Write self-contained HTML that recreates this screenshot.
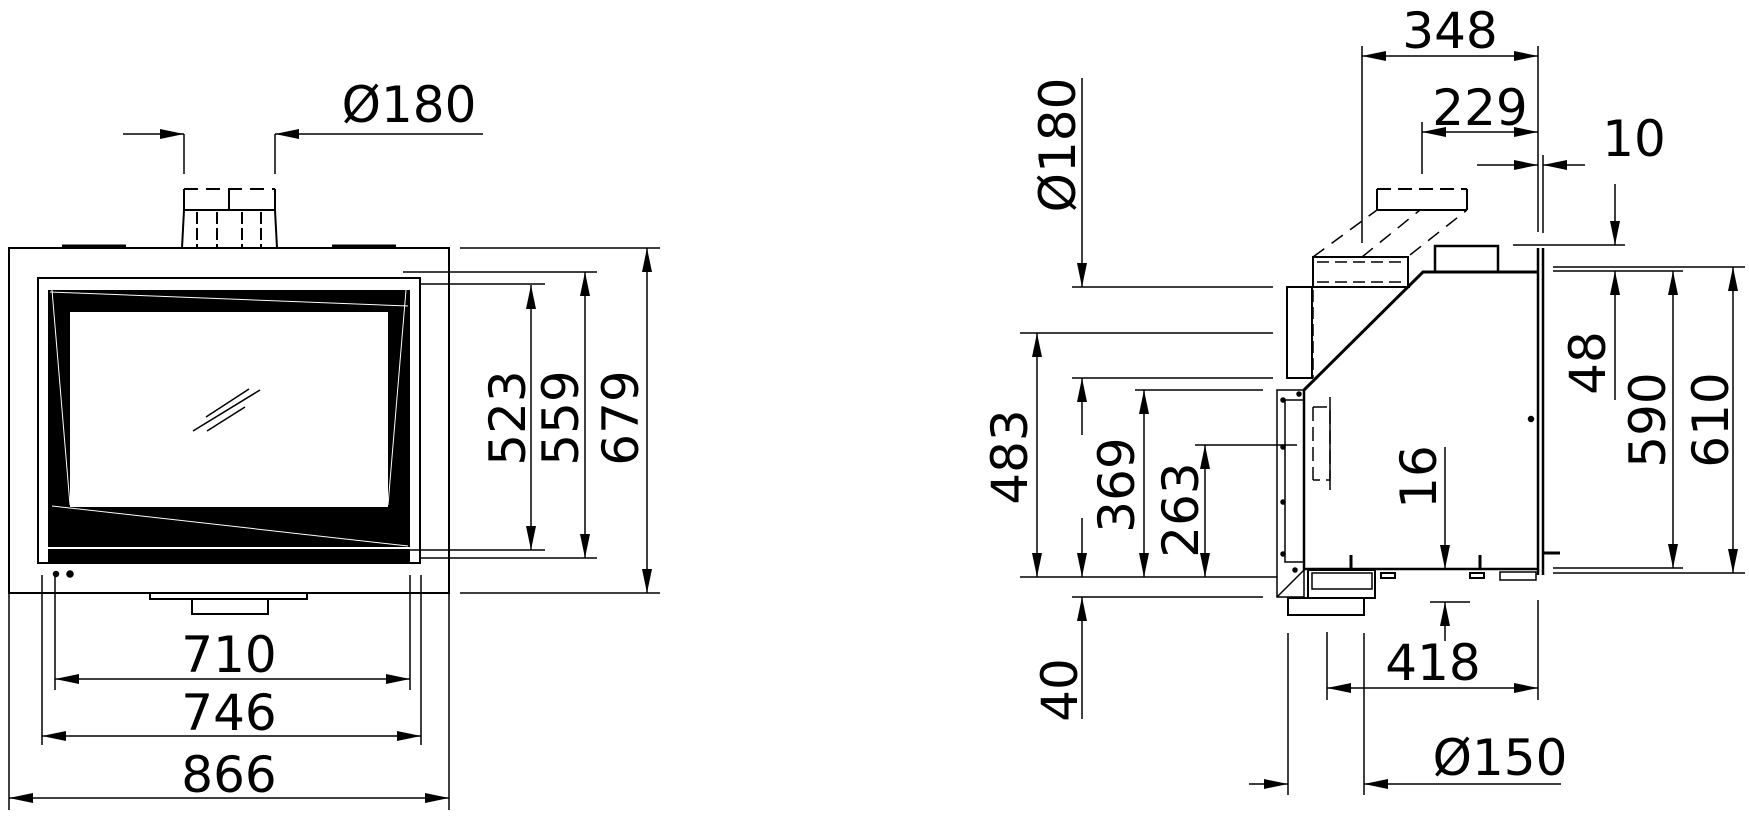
<!DOCTYPE html>
<html><head><meta charset="utf-8"><style>
html,body{margin:0;padding:0;background:#fff}
svg{display:block}
text{font-family:"DejaVu Sans","Liberation Sans",sans-serif;font-size:50px;fill:#000}
</style></head><body>
<svg width="1749" height="819" viewBox="0 0 1749 819" xmlns="http://www.w3.org/2000/svg">
<defs>
<marker id="a" markerUnits="userSpaceOnUse" markerWidth="26" markerHeight="12" refX="24" refY="5" orient="auto"><path d="M0,0 L24,5 L0,10 Z" fill="#000"/></marker>
<marker id="s" markerUnits="userSpaceOnUse" markerWidth="26" markerHeight="12" refX="0" refY="5" orient="auto"><path d="M24,0 L0,5 L24,10 Z" fill="#000"/></marker>
</defs>
<g stroke="#000" stroke-width="1.5" fill="none">
<!-- FRONT VIEW -->
<rect x="9" y="248" width="440" height="345" stroke-width="2"/>
<line x1="62" y1="246" x2="126" y2="246" stroke-width="3"/>
<line x1="332" y1="246" x2="396" y2="246" stroke-width="3"/>
<!-- flue -->
<path d="M182,248 L184,210 L275,210 L277,248" stroke-width="2"/>
<path d="M184,210 V189 M275,210 V189 M229,189 V210" stroke-width="2"/>
<path d="M184,189 H275" stroke-dasharray="14,8" stroke-width="2"/>
<path d="M197,212 V248 M217,212 V248 M242,212 V248 M261,212 V248" stroke-width="2" stroke-dasharray="12,4"/>
<path d="M184,134 V174 M275,134 V174"/>
<!-- door -->
<rect x="38" y="278" width="382" height="285" stroke-width="2"/>
<rect x="48" y="290" width="362" height="272" fill="#000" stroke="none"/>
<rect x="70" y="312" width="318" height="195" fill="#fff" stroke="none"/>
<line x1="48" y1="548" x2="410" y2="548" stroke="#fff" stroke-width="2"/>
<line x1="50" y1="292" x2="408" y2="306" stroke="#fff" stroke-width="1"/>
<line x1="52" y1="506" x2="408" y2="546" stroke="#fff" stroke-width="1"/>
<line x1="52" y1="290" x2="70" y2="505" stroke="#fff" stroke-width="1"/>
<line x1="406" y1="290" x2="388" y2="505" stroke="#fff" stroke-width="1"/>
<path d="M206,417 L249,389 M193,431 L260,390 M207,431 L245,407"/>
<circle cx="56" cy="574" r="2.5" fill="#000"/><circle cx="70" cy="574" r="3" fill="#000"/>
<!-- bottom collar -->
<path d="M150,593 V599 H307 V593" stroke-width="2"/>
<rect x="192" y="599" width="76" height="15" stroke-width="2"/>
<!-- front dims -->
<path d="M123,134 H184" marker-end="url(#a)"/>
<path d="M483,134 H275" marker-end="url(#a)"/>
<path d="M403,272 H597 M420,284 H545 M403,550 H545 M420,558 H597 M460,248 H660 M460,593 H660"/>
<path d="M531,285 V550" marker-start="url(#s)" marker-end="url(#a)"/>
<path d="M585,272 V558" marker-start="url(#s)" marker-end="url(#a)"/>
<path d="M647,248 V593" marker-start="url(#s)" marker-end="url(#a)"/>
<path d="M55,575 V690 M410,575 V690 M42,575 V745 M421,575 V745 M9,593 V810 M449,593 V810"/>
<path d="M55,679 H410" marker-start="url(#s)" marker-end="url(#a)"/>
<path d="M42,736 H421" marker-start="url(#s)" marker-end="url(#a)"/>
<path d="M9,798 H449" marker-start="url(#s)" marker-end="url(#a)"/>

<!-- SIDE VIEW -->
<path d="M1304,390 L1423,272 H1538" stroke-width="3"/>
<path d="M1304,390 V569 H1538" stroke-width="2.5"/>
<path d="M1538,248 V575 M1543,248 V575" stroke-width="2.5"/>
<path d="M1543,553 H1560" stroke-width="3"/>
<path d="M1304,390 H1277 V597 H1304 V569"/>
<path d="M1277,597 L1304,570"/>
<path d="M1285,400 V562 H1304 M1285,400 H1304"/>
<rect x="1308" y="570" width="67" height="28" stroke-width="2"/>
<rect x="1312" y="573" width="60" height="16"/>
<rect x="1288" y="598" width="76" height="17" stroke-width="2"/>
<rect x="1287" y="287" width="25" height="91" stroke-width="2"/>
<path d="M1313,290 V378" stroke-dasharray="12,5"/>
<path d="M1312,287 H1410" stroke-width="2"/>
<rect x="1313" y="257" width="95" height="30" stroke-width="2"/>
<path d="M1317,262 H1404 M1317,282 H1404" stroke-dasharray="12,6"/>
<path d="M1377,210 V189 M1467,210 V189 M1377,210 H1467" stroke-width="2"/>
<path d="M1377,189 H1467" stroke-dasharray="14,7" stroke-width="2"/>
<path d="M1313,257 L1377,210 M1362,257 L1420,210 M1410,255 L1467,210" stroke-dasharray="14,9"/>
<rect x="1435" y="246" width="63" height="26" stroke-width="2.5"/>
<path d="M1313,407 H1330 V480 H1313 M1313,407 V480" stroke-dasharray="14,6"/>
<path d="M1330,397 V490"/>
<circle cx="1531" cy="419" r="2.5" fill="#000"/>
<circle cx="1283" cy="400" r="2" fill="#000"/><circle cx="1299" cy="394" r="2" fill="#000"/>
<circle cx="1283" cy="447" r="2" fill="#000"/><circle cx="1283" cy="502" r="2" fill="#000"/>
<circle cx="1283" cy="554" r="2" fill="#000"/><circle cx="1295" cy="570" r="2" fill="#000"/>
<path d="M1351,555 V569 M1480,555 V569" stroke-width="3"/>
<rect x="1381" y="573" width="14" height="5" stroke-width="2"/>
<rect x="1470" y="573" width="14" height="5" stroke-width="2"/>
<rect x="1500" y="572" width="36" height="8" stroke-width="1.5"/>
<!-- side dims -->
<path d="M1362,46 V243 M1538,46 V232 M1422,122 V174 M1543,155 V233"/>
<path d="M1362,56 H1538" marker-start="url(#s)" marker-end="url(#a)"/>
<path d="M1422,132 H1538" marker-start="url(#s)" marker-end="url(#a)"/>
<path d="M1477,165 H1538" marker-end="url(#a)"/>
<path d="M1585,165 H1543" marker-end="url(#a)"/>
<path d="M1513,245 H1625 M1553,267 H1745 M1553,271 H1683 M1553,568 H1683 M1553,573 H1745"/>
<path d="M1615,184 V245" marker-end="url(#a)"/>
<path d="M1615,400 V271" marker-end="url(#a)"/>
<path d="M1673,271 V568" marker-start="url(#s)" marker-end="url(#a)"/>
<path d="M1733,267 V573" marker-start="url(#s)" marker-end="url(#a)"/>
<path d="M1445,447 V569" marker-end="url(#a)"/>
<path d="M1445,641 V602" marker-end="url(#a)"/>
<path d="M1430,602 H1470"/>
<path d="M1327,632 V700 M1538,600 V700"/>
<path d="M1327,688 H1538" marker-start="url(#s)" marker-end="url(#a)"/>
<path d="M1288,633 V795 M1364,633 V795"/>
<path d="M1249,784 H1288" marker-end="url(#a)"/>
<path d="M1561,784 H1364" marker-end="url(#a)"/>
<path d="M1072,287 H1273 M1020,333 H1273 M1072,378 H1273 M1135,390 H1263 M1195,445 H1297 M1020,577 H1277 M1072,597 H1263"/>
<path d="M1082,78 V287" marker-end="url(#a)"/>
<path d="M1082,435 V378" marker-end="url(#a)"/>
<path d="M1037,333 V577" marker-start="url(#s)" marker-end="url(#a)"/>
<path d="M1144,390 V577" marker-start="url(#s)" marker-end="url(#a)"/>
<path d="M1205,445 V577" marker-start="url(#s)" marker-end="url(#a)"/>
<path d="M1082,518 V577" marker-end="url(#a)"/>
<path d="M1082,719 V597" marker-end="url(#a)"/>
</g>
<g>
<text x="409" y="122" text-anchor="middle">Ø180</text>
<text x="229" y="672" text-anchor="middle">710</text>
<text x="229" y="730" text-anchor="middle">746</text>
<text x="229" y="792" text-anchor="middle">866</text>
<text transform="translate(525,418) rotate(-90)" text-anchor="middle">523</text>
<text transform="translate(578,418) rotate(-90)" text-anchor="middle">559</text>
<text transform="translate(638,418) rotate(-90)" text-anchor="middle">679</text>
<text x="1450" y="48" text-anchor="middle">348</text>
<text x="1480" y="125" text-anchor="middle">229</text>
<text x="1634" y="156" text-anchor="middle">10</text>
<text transform="translate(1605,363) rotate(-90)" text-anchor="middle">48</text>
<text transform="translate(1665,420) rotate(-90)" text-anchor="middle">590</text>
<text transform="translate(1728,420) rotate(-90)" text-anchor="middle">610</text>
<text transform="translate(1436,477) rotate(-90)" text-anchor="middle">16</text>
<text x="1433" y="680" text-anchor="middle">418</text>
<text x="1500" y="775" text-anchor="middle">Ø150</text>
<text transform="translate(1075,145) rotate(-90)" text-anchor="middle">Ø180</text>
<text transform="translate(1027,457) rotate(-90)" text-anchor="middle">483</text>
<text transform="translate(1134,485) rotate(-90)" text-anchor="middle">369</text>
<text transform="translate(1198,510) rotate(-90)" text-anchor="middle">263</text>
<text transform="translate(1077,690) rotate(-90)" text-anchor="middle">40</text>
</g>
</svg>
</body></html>
